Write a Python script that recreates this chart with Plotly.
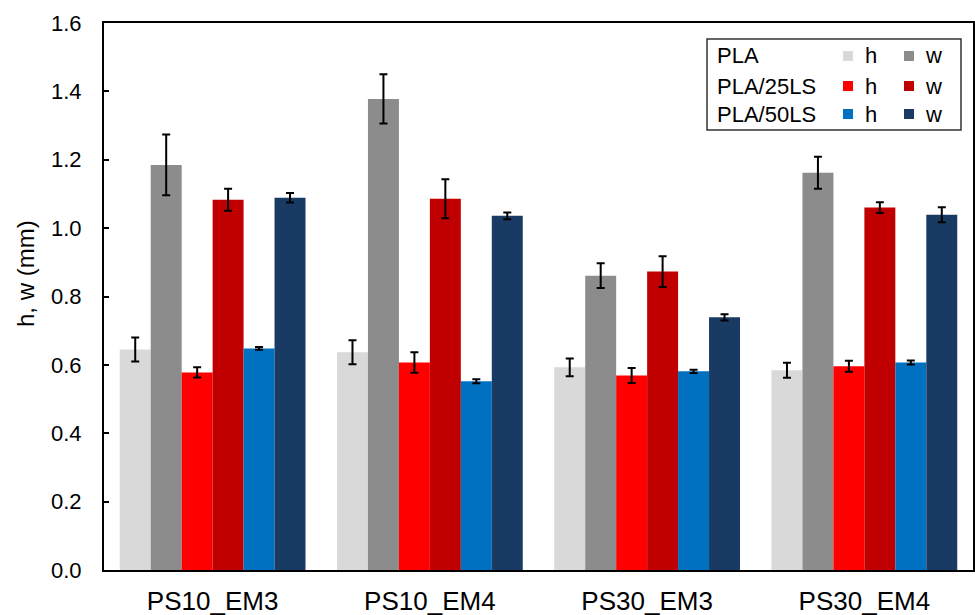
import plotly.graph_objects as go

categories = ["PS10_EM3", "PS10_EM4", "PS30_EM3", "PS30_EM4"]

series_names = ["PLA h", "PLA w", "PLA/25LS h", "PLA/25LS w", "PLA/50LS h", "PLA/50LS w"]
pla_h = [0.645, 0.637, 0.593, 0.584]
pla_w = [1.185, 1.378, 0.861, 1.162]
ls25_h = [0.578, 0.607, 0.569, 0.596]
ls25_w = [1.083, 1.086, 0.873, 1.060]
ls50_h = [0.648, 0.552, 0.581, 0.607]
ls50_w = [1.089, 1.036, 0.739, 1.039]

pla_h_err = [0.035, 0.035, 0.026, 0.022]
pla_w_err = [0.089, 0.072, 0.036, 0.047]
ls25_h_err = [0.015, 0.030, 0.022, 0.016]
ls25_w_err = [0.032, 0.057, 0.045, 0.016]
ls50_h_err = [0.004, 0.006, 0.005, 0.006]
ls50_w_err = [0.014, 0.010, 0.009, 0.022]

colors = ["#d9d9d9", "#8c8c8c", "#ff0000", "#c00000", "#0070c0", "#193a62"]

legend_groups = ["PLA", "PLA/25LS", "PLA/50LS"]
y_title = "h, w (mm)"

values = [pla_h, pla_w, ls25_h, ls25_w, ls50_h, ls50_w]
errors = [pla_h_err, pla_w_err, ls25_h_err, ls25_w_err, ls50_h_err, ls50_w_err]

FONT = "Liberation Sans, Arial, sans-serif"

fig = go.Figure()
for name, vals, errs, col in zip(series_names, values, errors, colors):
    fig.add_trace(go.Bar(
        x=categories, y=vals, name=name,
        marker=dict(color=col, line=dict(width=0)),
        error_y=dict(type="data", array=errs, visible=True,
                     color="black", thickness=2, width=4),
        showlegend=False,
    ))

# plot area in window pixels
L, R, T, B = 104, 973, 23, 570
W, H = R - L, B - T


def px(x):
    return (x - L) / W


def py(y):
    return (B - y) / H


shapes = []
annotations = []
# y-axis title (placed like the reference, slightly above centre)
annotations.append(dict(xref="paper", yref="paper", x=px(25), y=py(274),
                        text=y_title, showarrow=False, textangle=-90,
                        xanchor="center", yanchor="middle",
                        font=dict(family=FONT, size=24, color="black")))
# legend box
shapes.append(dict(type="rect", xref="paper", yref="paper",
                   x0=px(707), x1=px(961), y0=py(130), y1=py(39),
                   line=dict(color="#333333", width=1.5), fillcolor="white", layer="above"))
row_y = [56, 86, 114]
for i, grp in enumerate(legend_groups):
    yc = row_y[i]
    annotations.append(dict(xref="paper", yref="paper", x=px(715), y=py(yc),
                            text=grp, showarrow=False, xanchor="left", yanchor="middle",
                            font=dict(family=FONT, size=22, color="black")))
    for j, (sx, tx, lab) in enumerate([(848, 863, "h"), (909, 923, "w")]):
        col = colors[2 * i + j]
        shapes.append(dict(type="rect", xref="paper", yref="paper",
                           x0=px(sx - 5), x1=px(sx + 5), y0=py(yc + 5), y1=py(yc - 5),
                           line=dict(width=0), fillcolor=col, layer="above"))
        annotations.append(dict(xref="paper", yref="paper", x=px(tx), y=py(yc),
                                text=lab, showarrow=False, xanchor="left", yanchor="middle",
                                font=dict(family=FONT, size=22, color="black")))

fig.update_layout(
    width=975, height=615,
    margin=dict(l=L, r=975 - R, t=T, b=615 - B),
    paper_bgcolor="white", plot_bgcolor="white",
    barmode="group", bargap=0.145, bargroupgap=0,
    font=dict(family=FONT, color="black"),
    shapes=shapes, annotations=annotations,
    xaxis=dict(showline=True, linecolor="black", linewidth=2, mirror=True,
               ticks="", tickfont=dict(size=26, family=FONT, color="black"),
               ticklabelstandoff=7, automargin=False, showgrid=False),
    yaxis=dict(range=[0, 1.6], dtick=0.2, tickformat=".1f",
               showline=True, linecolor="black", linewidth=2, mirror=True,
               ticks="inside", ticklen=5, tickwidth=1.5, tickcolor="black",
               tickfont=dict(size=22, family=FONT, color="black"),
               ticklabelstandoff=16,
               showgrid=False, zeroline=False, automargin=False),
)

fig.write_html(
    "out.html",
    config={"displayModeBar": False},
    post_script="document.body.style.margin='0';document.body.style.overflow='hidden';",
)
